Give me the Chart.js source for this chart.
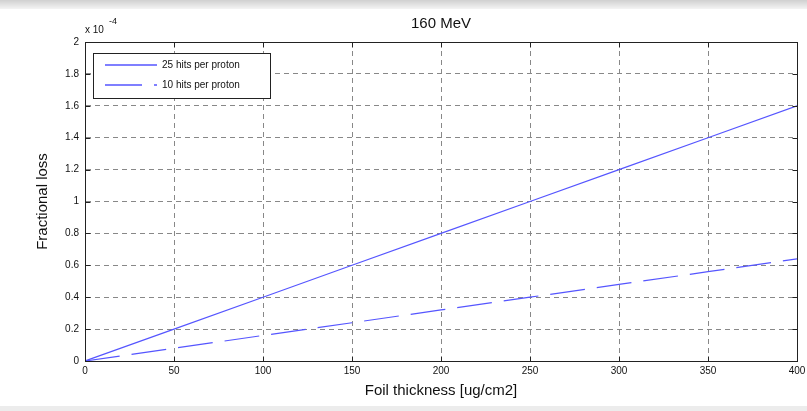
<!DOCTYPE html>
<html>
<head>
<meta charset="utf-8">
<script src="https://cdn.jsdelivr.net/npm/chart.js@4/dist/chart.umd.min.js"></script>
<style>
  html, body { margin: 0; padding: 0; background: #fff; }
  #wrap { position: relative; width: 807px; height: 411px; overflow: hidden; }
  #topbar { position: absolute; left: 0; top: 0; width: 807px; height: 9px;
            background: linear-gradient(#d0d0d0, #f4f4f4); }
  #botbar { position: absolute; left: 0; top: 406px; width: 807px; height: 5px; background: #ececec; }
  #chart { position: absolute; left: 0; top: 0; }
</style>
</head>
<body>
<div id="wrap">
  <div id="topbar"></div>
  <div id="botbar"></div>
  <canvas id="chart" width="807" height="411"></canvas>
</div>
<script>
// valores em unidades de 1e-4
const thickness = [0, 50, 100, 150, 200, 250, 300, 350, 400];
const loss25 = [0, 0.2, 0.4, 0.6, 0.8, 1.0, 1.2, 1.4, 1.6];
const loss10 = [0, 0.08, 0.16, 0.24, 0.32, 0.40, 0.48, 0.56, 0.64];
const seriesNames = ['25 hits per proton', '10 hits per proton'];
const xTicks = [0, 50, 100, 150, 200, 250, 300, 350, 400];
const yTicks = [0, 0.2, 0.4, 0.6, 0.8, 1, 1.2, 1.4, 1.6, 1.8, 2];

const lineColor = '#5555ff';
const fontFam = '"Liberation Sans", Arial, sans-serif';

function pts(ys) {
    return thickness.map((x, i) => ({ x: x, y: ys[i] }));
}

// desenha caixa, marcas internas, legenda e textos estilo MATLAB
const matlabDecor = {
    id: 'matlabDecor',
    afterDraw(chart) {
        const ctx = chart.ctx;
        const a = chart.chartArea;
        const xs = chart.scales.x, ys = chart.scales.y;
        const L = Math.round(a.left) + 0.5, R = Math.round(a.right) + 0.5;
        const T = Math.round(a.top) + 0.5, B = Math.round(a.bottom) + 0.5;
        ctx.save();
        ctx.strokeStyle = '#222';
        ctx.lineWidth = 1;
        ctx.strokeRect(L, T, R - L, B - T);
        // marcas internas
        ctx.beginPath();
        xTicks.forEach(v => {
            const p = Math.round(xs.getPixelForValue(v)) + 0.5;
            ctx.moveTo(p, B); ctx.lineTo(p, B - 5);
            ctx.moveTo(p, T); ctx.lineTo(p, T + 5);
        });
        yTicks.forEach(v => {
            const p = Math.round(ys.getPixelForValue(v)) + 0.5;
            ctx.moveTo(L, p); ctx.lineTo(L + 5, p);
            ctx.moveTo(R, p); ctx.lineTo(R - 5, p);
        });
        ctx.stroke();

        // titulo e rotulos
        ctx.fillStyle = '#111';
        ctx.textAlign = 'center';
        ctx.textBaseline = 'middle';
        ctx.font = '15px ' + fontFam;
        ctx.fillText('160 MeV', (a.left + a.right) / 2, 24);
        ctx.fillText('Foil thickness [ug/cm2]', (a.left + a.right) / 2, 391);
        ctx.save();
        ctx.translate(43, (a.top + a.bottom) / 2);
        ctx.rotate(-Math.PI / 2);
        ctx.fillText('Fractional loss', 0, 0);
        ctx.restore();
        ctx.textAlign = 'left';
        ctx.font = '10px ' + fontFam;
        ctx.fillText('x 10', 85, 30);
        ctx.font = '9px ' + fontFam;
        ctx.fillText('-4', 109, 22);

        // legenda
        const lx = 93, ly = 53, lw = 177, lh = 45;
        ctx.fillStyle = '#fff';
        ctx.fillRect(lx, ly, lw, lh);
        ctx.strokeStyle = '#222';
        ctx.strokeRect(lx + 0.5, ly + 0.5, lw, lh);
        ctx.strokeStyle = lineColor;
        ctx.lineWidth = 1.5;
        ctx.beginPath();
        ctx.moveTo(105, 65); ctx.lineTo(157, 65);
        ctx.stroke();
        ctx.setLineDash([37, 12]);
        ctx.beginPath();
        ctx.moveTo(105, 85); ctx.lineTo(157, 85);
        ctx.stroke();
        ctx.setLineDash([]);
        ctx.fillStyle = '#111';
        ctx.font = '10px ' + fontFam;
        ctx.fillText(seriesNames[0], 162, 65);
        ctx.fillText(seriesNames[1], 162, 85);
        ctx.restore();
    }
};

const ctx = document.getElementById('chart').getContext('2d');

let chart = new Chart(ctx, {
    type: 'line',
    data: {
        datasets: [
            {
                label: seriesNames[0],
                data: pts(loss25),
                borderColor: lineColor,
                borderWidth: 1.2,
                pointRadius: 0,
                fill: false
            },
            {
                label: seriesNames[1],
                data: pts(loss10),
                borderColor: lineColor,
                borderWidth: 1.2,
                borderDash: [35, 12],
                pointRadius: 0,
                fill: false
            }
        ]
    },
    options: {
        responsive: false,
        animation: false,
        events: [],
        layout: { padding: { left: 0, right: 10, top: 42, bottom: 0 } },
        plugins: {
            legend: { display: false },
            title: { display: false },
            tooltip: { enabled: false }
        },
        scales: {
            x: {
                type: 'linear',
                min: 0,
                max: 400,
                afterBuildTicks: s => { s.ticks = xTicks.map(v => ({ value: v })); },
                afterFit: s => { s.height = 50; s.paddingLeft = 0; s.paddingRight = 0; },
                ticks: {
                    color: '#111',
                    font: { family: fontFam, size: 10 },
                    padding: 4,
                    maxRotation: 0
                },
                grid: { color: '#888', drawTicks: false },
                border: { display: true, color: '#222', dash: [5, 4] }
            },
            y: {
                type: 'linear',
                min: 0,
                max: 2,
                afterBuildTicks: s => { s.ticks = yTicks.map(v => ({ value: v })); },
                afterFit: s => { s.width = 85; s.paddingTop = 0; s.paddingBottom = 0; },
                ticks: {
                    color: '#111',
                    font: { family: fontFam, size: 10 },
                    padding: 6,
                    callback: v => String(Number(v.toFixed(1)))
                },
                grid: { color: '#888', drawTicks: false },
                border: { display: true, color: '#222', dash: [5, 4] }
            }
        }
    },
    plugins: [matlabDecor]
});
</script>
</body>
</html>
